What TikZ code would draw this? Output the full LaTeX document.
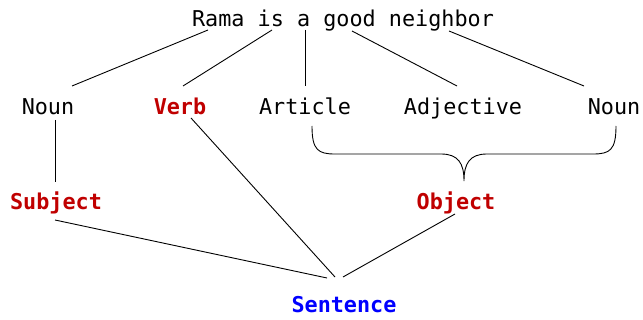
\documentclass[tikz,border=0pt]{standalone}
\usepackage{fontspec}
\setmonofont{DejaVu Sans Mono}
\definecolor{redlbl}{RGB}{192,0,0}
\definecolor{bluelbl}{RGB}{0,0,255}
\begin{document}
\begin{tikzpicture}[x=1pt,y=-1pt,
  word/.style={anchor=base,inner sep=0pt,text height=16pt,text depth=5pt,
    font=\ttfamily\fontsize{21.8}{26}\selectfont},
  role/.style={word,font=\ttfamily\bfseries\fontsize{21.8}{26}\selectfont,text=redlbl},
  goal/.style={word,font=\ttfamily\bfseries\fontsize{21.8}{26}\selectfont,text=bluelbl},
  link/.style={draw=black,line width=0.9pt}]
\useasboundingbox (0,0) rectangle (643,320);
\node[word] (top) at (343,27) {Rama is a good neighbor};
\node[word] (noun1) at (48,115) {Noun};
\node[role] (verb) at (180,115) {Verb};
\node[word] (article) at (305,115) {Article};
\node[word] (adj) at (463,115) {Adjective};
\node[word] (noun2) at (614,115) {Noun};
\node[role] (subject) at (56,210) {Subject};
\node[role] (object) at (456,210) {Object};
\node[goal] (sentence) at (344,313) {Sentence};
% top to word classes
\draw[link] ([shift={(-135,3)}]top.base) -- ([shift={(24,-29)}]noun1.base);
\draw[link] ([shift={(-71,3)}]top.base) -- ([shift={(3,-29)}]verb.base);
\draw[link] ([shift={(-38,3)}]top.base) -- ([shift={(0,-29)}]article.base);
\draw[link] ([shift={(9,4)}]top.base) -- ([shift={(-6,-29)}]adj.base);
\draw[link] ([shift={(106,4)}]top.base) -- ([shift={(-30,-29)}]noun2.base);
% noun to subject
\draw[link] ([shift={(7,5)}]noun1.base) -- ([shift={(-1,-28)}]subject.base);
% to sentence
\draw[link] ([shift={(11,3)}]verb.base) -- ([shift={(-9,-36)}]sentence.base);
\draw[link] ([shift={(-1,10)}]subject.base) -- ([shift={(-17,-35)}]sentence.base);
\draw[link] ([shift={(-1,4)}]object.base) -- ([shift={(-1,-36)}]sentence.base);
% brace
\draw[link] (312,126) .. controls (312,150) and (318,154) .. (335,154) -- (441,154)
  .. controls (458,154) and (464,163) .. (464,181)
  .. controls (464,163) and (470,154) .. (487,154) -- (593,154)
  .. controls (610,154) and (616,150) .. (616,126);
\end{tikzpicture}
\end{document}
